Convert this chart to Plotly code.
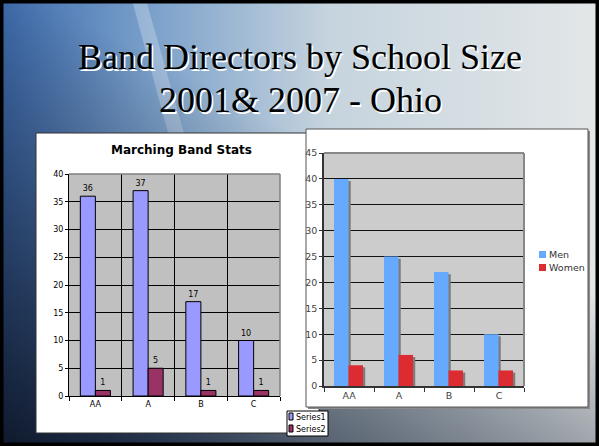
import base64
import plotly.graph_objects as go

# data
sizes = ["AA", "A", "B", "C"]
series1 = [36, 37, 17, 10]
series2 = [1, 5, 1, 1]
men = [40, 25, 22, 10]
women = [4, 6, 3, 3]

W, H = 599, 446


def px(x):
    return x / W


def py(y):
    return 1 - y / H


# slide background as an svg gradient
svg = """<svg xmlns="http://www.w3.org/2000/svg" width="599" height="446" preserveAspectRatio="none">
<defs>
<linearGradient id="h" x1="0" y1="0" x2="1" y2="0">
<stop offset="0" stop-color="#3d6bad"/>
<stop offset="0.25" stop-color="#7aa0ca"/>
<stop offset="0.55" stop-color="#c6d4de"/>
<stop offset="1" stop-color="#e3e7e8"/>
</linearGradient>
<linearGradient id="d" x1="0" y1="1" x2="0.5" y2="0.3">
<stop offset="0" stop-color="#0d1526" stop-opacity="0.95"/>
<stop offset="1" stop-color="#0d1526" stop-opacity="0"/>
</linearGradient>
</defs>
<rect width="599" height="446" fill="url(#h)"/>
<polygon points="132,0 146,0 186,140 170,140" fill="#ffffff" fill-opacity="0.25"/>
<rect width="599" height="446" fill="url(#d)"/>
</svg>"""
bg_src = "data:image/svg+xml;base64," + base64.b64encode(svg.encode()).decode()

fig = go.Figure()

# left chart
fig.add_trace(go.Bar(x=sizes, y=series1, name="Series1", xaxis="x", yaxis="y",
                     marker=dict(color="#9999ff", line=dict(color="black", width=1)),
                     width=0.285, offset=-0.285, text=series1, textposition="outside",
                     textfont=dict(size=8, color="black", family="DejaVu Sans"),
                     cliponaxis=False, showlegend=False))
fig.add_trace(go.Bar(x=sizes, y=series2, name="Series2", xaxis="x", yaxis="y",
                     marker=dict(color="#993366", line=dict(color="black", width=1)),
                     width=0.285, offset=0.0, text=series2, textposition="outside",
                     textfont=dict(size=8, color="black", family="DejaVu Sans"),
                     cliponaxis=False, showlegend=False))

# right chart: shadows first, then bars
for vals, off in [(men, -0.30), (women, -0.01)]:
    fig.add_trace(go.Bar(x=sizes, y=vals, base=-0.4, xaxis="x2", yaxis="y2",
                         marker=dict(color="#7c7c7c", line=dict(width=0)),
                         width=0.29, offset=off + 0.045, showlegend=False, hoverinfo="skip"))
fig.add_trace(go.Bar(x=sizes, y=men, name="Men", xaxis="x2", yaxis="y2",
                     marker=dict(color="#66aaff", line=dict(width=0)),
                     width=0.29, offset=-0.30, showlegend=False))
fig.add_trace(go.Bar(x=sizes, y=women, name="Women", xaxis="x2", yaxis="y2",
                     marker=dict(color="#dd2b32", line=dict(width=0)),
                     width=0.29, offset=-0.01, showlegend=False))


def prect(x0, y0, x1, y1, **kw):
    return dict(type="rect", xref="paper", yref="paper", x0=px(x0), x1=px(x1),
                y0=py(y1), y1=py(y0), **kw)


shapes = [
    # left chart box
    prect(36, 133, 319, 433, fillcolor="white", line=dict(color="#333333", width=1), layer="below"),
    dict(type="rect", xref="x domain", yref="y domain", x0=0, x1=1, y0=0, y1=1,
         fillcolor="#c0c0c0", line=dict(width=0), layer="below"),
    # right chart box with shadow
    prect(308, 131, 590, 409, fillcolor="#8a8a8a", line=dict(width=0), layer="below"),
    prect(306, 129, 588, 407, fillcolor="white", line=dict(color="#555555", width=1), layer="below"),
    dict(type="rect", xref="x2 domain", yref="y2 domain", x0=0, x1=1, y0=0, y1=1,
         fillcolor="#cccccc", line=dict(width=0), layer="below"),
    # plot frames top/right in gray
    dict(type="line", xref="x domain", yref="y domain", x0=0, x1=1, y0=1, y1=1,
         line=dict(color="#808080", width=1.5)),
    dict(type="line", xref="x domain", yref="y domain", x0=1, x1=1, y0=0, y1=1,
         line=dict(color="#808080", width=1.5)),
    dict(type="line", xref="x2 domain", yref="y2 domain", x0=0, x1=1, y0=1, y1=1,
         line=dict(color="#888888", width=2)),
    dict(type="line", xref="x2 domain", yref="y2 domain", x0=1, x1=1, y0=0, y1=1,
         line=dict(color="#888888", width=2)),
    # left legend box and keys
    prect(287, 411, 328, 436, fillcolor="white", line=dict(color="black", width=1)),
    prect(289, 413, 293, 420, fillcolor="#9999ff", line=dict(color="black", width=1)),
    prect(289, 425, 293, 432, fillcolor="#993366", line=dict(color="black", width=1)),
    # right legend keys
    prect(539, 251, 546, 258, fillcolor="#66aaff", line=dict(width=0)),
    prect(539, 264, 546, 271, fillcolor="#dd2b32", line=dict(width=0)),
    # slide frame
    dict(type="rect", xref="paper", yref="paper", x0=0, x1=1, y0=0, y1=1,
         fillcolor="rgba(0,0,0,0)", line=dict(color="black", width=7)),
]

annotations = []
title_font = "Liberation Serif"
for txt, yy in [("Band Directors by School Size", 57), ("2001& 2007 - Ohio", 100)]:
    annotations.append(dict(text=txt, xref="paper", yref="paper", x=px(300), y=py(yy),
                            showarrow=False, xanchor="center", yanchor="middle",
                            font=dict(family=title_font, size=36, color="black",
                                      shadow="1.5px 1.5px 0px white")))
annotations.append(dict(text="<b>Marching Band Stats</b>", xref="paper", yref="paper",
                        x=px(181), y=py(150), showarrow=False, xanchor="center", yanchor="middle",
                        font=dict(family="DejaVu Sans", size=12, color="black")))
for name, yy in [("Series1", 417), ("Series2", 429)]:
    annotations.append(dict(text=name, xref="paper", yref="paper", x=px(294), y=py(yy),
                            showarrow=False, xanchor="left", yanchor="middle",
                            font=dict(family="DejaVu Sans", size=8, color="black")))
for name, yy in [("Men", 254), ("Women", 267)]:
    annotations.append(dict(text=name, xref="paper", yref="paper", x=px(547), y=py(yy),
                            showarrow=False, xanchor="left", yanchor="middle",
                            font=dict(family="DejaVu Sans", size=9.5, color="#333333")))

fig.update_layout(
    width=W, height=H, autosize=False,
    margin=dict(l=0, r=0, t=0, b=0),
    paper_bgcolor="#7f9fc4", plot_bgcolor="rgba(0,0,0,0)",
    barmode="overlay", showlegend=False,
    font=dict(family="DejaVu Sans"),
    images=[dict(source=bg_src, xref="paper", yref="paper", x=0, y=1, sizex=1, sizey=1,
                 xanchor="left", yanchor="top", sizing="stretch", layer="below")],
    shapes=shapes,
    annotations=annotations,
    xaxis=dict(domain=[px(69), px(280)], anchor="y", type="category", tickson="boundaries",
               showgrid=True, gridcolor="black", gridwidth=1, ticks="outside", ticklen=4,
               tickcolor="black", showline=True, linecolor="black", linewidth=1,
               tickfont=dict(size=8, color="black"), automargin=False, fixedrange=True),
    yaxis=dict(domain=[py(396), py(174)], anchor="x", range=[0, 40], dtick=5,
               showgrid=True, gridcolor="black", gridwidth=1, zeroline=False,
               ticks="outside", ticklen=3, tickcolor="black", showline=True,
               linecolor="black", linewidth=1, tickfont=dict(size=8, color="black"),
               automargin=False, fixedrange=True),
    xaxis2=dict(domain=[px(324), px(524)], anchor="y2", type="category", tickson="boundaries",
                showgrid=False, ticks="outside", ticklen=4, tickcolor="#333333",
                showline=True, linecolor="#333333", linewidth=1.5,
                tickfont=dict(size=9.5, color="#444444"), automargin=False, fixedrange=True),
    yaxis2=dict(domain=[py(386), py(153)], anchor="x2", range=[0, 45], dtick=5,
                showgrid=True, gridcolor="#111111", gridwidth=1, zeroline=False,
                ticks="outside", ticklen=3, tickcolor="#333333", showline=True,
                linecolor="#333333", linewidth=1.5, tickfont=dict(size=9.5, color="#444444"),
                automargin=False, fixedrange=True),
)

fig.write_html("out.html", config={"displayModeBar": False},
               post_script="document.body.style.margin='0';")
